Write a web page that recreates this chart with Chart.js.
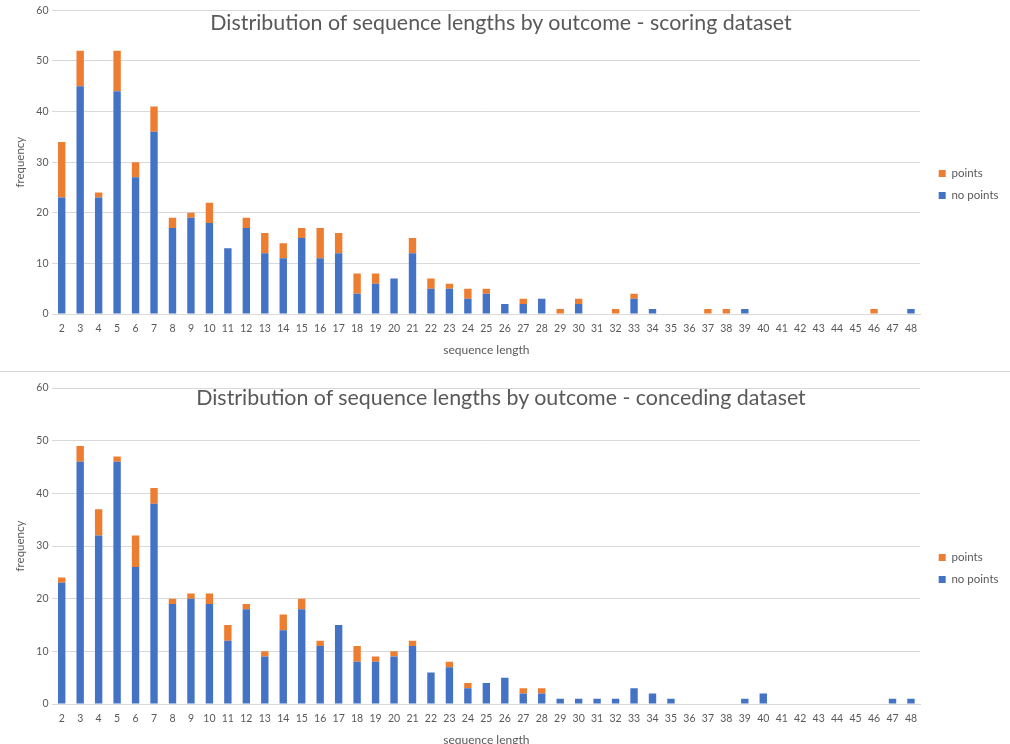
<!DOCTYPE html>
<html>
<head>
<meta charset="utf-8">
<script src="https://cdn.jsdelivr.net/npm/chart.js@4.4.1/dist/chart.umd.min.js"></script>
<style>
  html, body { margin: 0; padding: 0; background: #fff; overflow: hidden; }
  .panel { position: relative; width: 1010px; }
  #top { height: 371px; border-bottom: 1px solid #d9d9d9; }
  #bottom { height: 375px; }
  .title {
    position: absolute; left: -4px; width: 1010px; text-align: center;
    font-family: Lato, sans-serif; font-size: 21.4px; line-height: 24px;
    color: #595959; pointer-events: none;
  }
</style>
</head>
<body>
<div class="panel" id="top">
  <canvas id="scoringChart"></canvas>
  <div class="title" style="top:10px">Distribution of sequence lengths by outcome - scoring dataset</div>
</div>
<div class="panel" id="bottom">
  <canvas id="concedingChart"></canvas>
  <div class="title" style="top:13px">Distribution of sequence lengths by outcome - conceding dataset</div>
</div>
<script>
// sequence lengths 2..48
const lengths = ["2","3","4","5","6","7","8","9","10","11","12","13","14","15","16","17","18","19","20","21","22","23","24","25","26","27","28","29","30","31","32","33","34","35","36","37","38","39","40","41","42","43","44","45","46","47","48"];

const scoringNoPoints = [23,45,23,44,27,36,17,19,18,13, 17,12,11,15,11,12,4,6,7,12, 5,5,3,4,2,2,3,0,2,0, 0,3,1,0,0,0,0,1,0,0, 0,0,0,0,0,0,1];
const scoringPoints   = [11,7,1,8,3,5,2,1,4,0, 2,4,3,2,6,4,4,2,0,3, 2,1,2,1,0,1,0,1,1,0, 1,1,0,0,0,1,1,0,0,0, 0,0,0,0,1,0,0];

const concedingNoPoints = [23,46,32,46,26,38,19,20,19,12, 18,9,14,18,11,15,8,8,9,11, 6,7,3,4,5,2,2,1,1,1, 1,3,2,1,0,0,0,1,2,0, 0,0,0,0,0,1,1];
const concedingPoints   = [1,3,5,1,6,3,1,1,2,3, 1,1,3,2,1,0,3,1,1,1, 0,1,1,0,0,1,1,0,0,0, 0,0,0,0,0,0,0,0,0,0, 0,0,0,0,0,0,0];

const textColor = "#595959";
const gridColor = "#d9d9d9";

Chart.defaults.font.family = "Lato, sans-serif";

// nudge the legend a bit (Excel puts it further from the plot than chart.js does)
const legendShift = {
  id: "legendShift",
  afterLayout(chart, args, opts) {
    const lg = chart.legend;
    if (!lg) return;
    lg.left += opts.x || 0;
    lg.right += opts.x || 0;
    lg.top += opts.y || 0;
    lg.bottom += opts.y || 0;
  },
};

function makeChart(id, noPoints, points, pad, shift) {
  return new Chart(document.getElementById(id), {
    type: "bar",
    data: {
      labels: lengths,
      datasets: [
        { label: "no points", data: noPoints, backgroundColor: "#4472C4" },
        { label: "points", data: points, backgroundColor: "#ED7D31" },
      ],
    },
    plugins: [legendShift],
    options: {
      responsive: true,
      maintainAspectRatio: false,
      animation: false,
      layout: { padding: pad },
      datasets: { bar: { barPercentage: 0.4, categoryPercentage: 1 } },
      plugins: {
        legend: {
          position: "right",
          reverse: true, // "points" listed first, like the original
          labels: { boxWidth: 7, boxHeight: 7, padding: 10.5, color: textColor, font: { size: 11.5 } },
        },
        legendShift: shift,
        tooltip: { enabled: false },
      },
      scales: {
        x: {
          stacked: true,
          grid: { display: false, drawTicks: false },
          border: { color: gridColor },
          ticks: { color: textColor, font: { size: 10.5 }, padding: 8, autoSkip: false, maxRotation: 0 },
          title: { display: true, text: "sequence length", color: textColor, font: { size: 12 }, padding: 0 },
        },
        y: {
          stacked: true,
          min: 0,
          max: 60,
          ticks: { stepSize: 10, padding: 4, color: textColor, font: { size: 10.5 } },
          grid: { color: gridColor, drawTicks: false },
          border: { display: false },
          title: { display: true, text: "frequency", color: textColor, font: { size: 11.5 }, padding: { top: 9, bottom: 5.5 } },
        },
      },
    },
  });
}

makeChart("scoringChart", scoringNoPoints, scoringPoints, { top: 0, left: 4, right: 9.5, bottom: 14 }, { x: 8, y: 6 });
makeChart("concedingChart", concedingNoPoints, concedingPoints, { top: 16, left: 4, right: 9.5, bottom: 0 }, { x: 8, y: 1 });
</script>
</body>
</html>
